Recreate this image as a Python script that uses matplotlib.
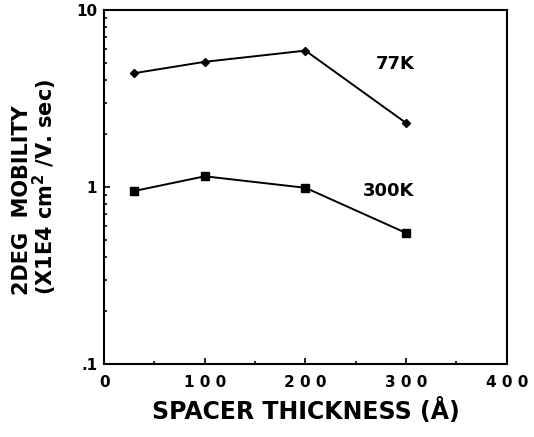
import matplotlib.pyplot as plt
from matplotlib.ticker import FixedLocator, LogLocator, NullFormatter

# data
spacer = [30, 100, 200, 300]
mob_77k = [4.4, 5.1, 5.9, 2.3]
mob_300k = [0.95, 1.15, 0.99, 0.55]

plt.rcParams['font.family'] = ['DejaVu Sans']
plt.rcParams['font.weight'] = 'bold'
plt.rcParams['mathtext.default'] = 'bf'

fig = plt.figure(figsize=(5.34, 4.37), dpi=100)
ax = fig.add_axes([0.195, 0.167, 0.754, 0.810])

ax.plot(spacer, mob_77k, color='black', lw=1.4, marker='D', ms=4.5)
ax.plot(spacer, mob_300k, color='black', lw=1.4, marker='s', ms=5.5)

ax.text(289, 4.95, '77K', fontsize=13, fontweight='bold', ha='center', va='center')
ax.text(283, 0.955, '300K', fontsize=13, fontweight='bold', ha='center', va='center')

ax.set_yscale('log')
ax.set_xlim(0, 400)
ax.set_ylim(0.1, 10)

ax.xaxis.set_major_locator(FixedLocator([0, 100, 200, 300, 400]))
ax.xaxis.set_minor_locator(FixedLocator([50, 150, 250, 350]))
ax.set_xticklabels(['0', '1 0 0', '2 0 0', '3 0 0', '4 0 0'])
ax.yaxis.set_major_locator(FixedLocator([0.1, 1, 10]))
ax.yaxis.set_minor_locator(LogLocator(base=10, subs=range(2, 10)))
ax.yaxis.set_minor_formatter(NullFormatter())
ax.set_yticklabels(['.1', '1', '10'])

ax.tick_params(which='both', direction='in', top=False, right=False, width=1.2)
ax.tick_params(which='major', length=4, labelsize=11)
ax.tick_params(axis='x', which='major', pad=8)
ax.tick_params(axis='y', which='major', pad=5)
ax.tick_params(which='minor', length=2.5)
for lab in ax.get_xticklabels() + ax.get_yticklabels():
    lab.set_fontweight('bold')
for s in ax.spines.values():
    s.set_linewidth(1.5)

ax.set_xlabel('SPACER THICKNESS (Å)', fontsize=17, fontweight='bold', labelpad=6)
ax.set_ylabel('2DEG  MOBILITY\n(X1E4 cm$^{2}$ /V. sec)', fontsize=15,
              fontweight='bold', linespacing=0.95, labelpad=12,
              multialignment='left')

fig.savefig('out.png', dpi=100)
